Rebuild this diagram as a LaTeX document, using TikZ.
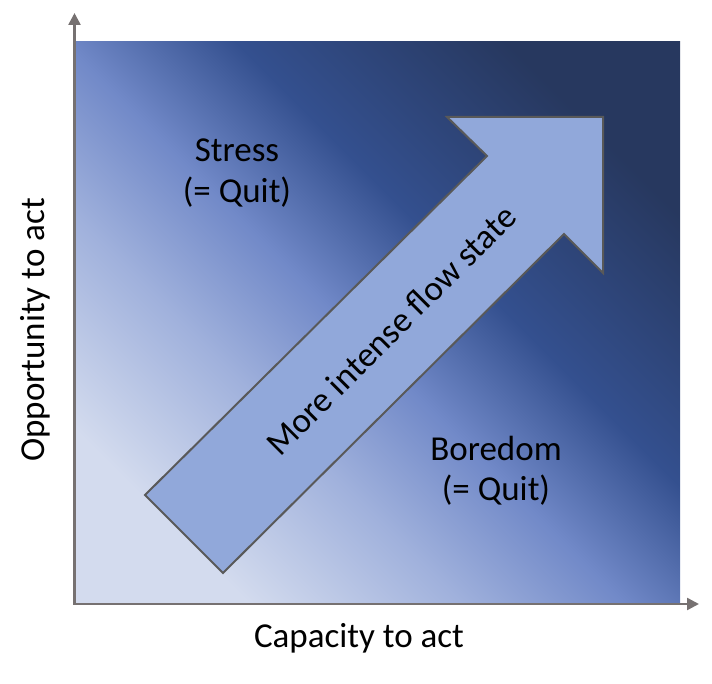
\documentclass[tikz,border=0pt]{standalone}
\usepackage{fontspec}
\setmainfont{Carlito}
\usetikzlibrary{arrows.meta}
\definecolor{gA}{HTML}{D3DBEE}
\definecolor{gB}{HTML}{A0B1DC}
\definecolor{gC}{HTML}{7189C8}
\definecolor{gD}{HTML}{34508F}
\definecolor{gE}{HTML}{27385F}
\definecolor{arrowfill}{HTML}{91A8DA}
\definecolor{arrowline}{HTML}{595959}
\definecolor{axisgray}{HTML}{767171}
\pgfdeclarehorizontalshading{flowshade}{100bp}{color(0bp)=(gA); color(25bp)=(gA); color(38bp)=(gB); color(48bp)=(gC); color(58.5bp)=(gD); color(75bp)=(gE); color(100bp)=(gE)}
\tikzset{
  lbl/.style={font=\fontsize{35}{40}\selectfont, text=black, inner sep=0pt},
  axisline/.style={draw=axisgray, line width=2.5pt, -{Triangle[length=12pt,width=12pt]}},
  bigarrow/.style={fill=arrowfill, draw=arrowline, line width=2pt, line join=miter}
}
\begin{document}
\begin{tikzpicture}[x=1pt,y=-1pt]
\useasboundingbox (0,0) rectangle (712,684);
% gradient field
\shade[shading=flowshade, shading angle=45] (75,42) rectangle (680,603);
% axes
\coordinate (origin) at (74.5,604);
\coordinate (ytip) at (74.5,13);
\coordinate (xtip) at (699,604);
\draw[axisline] (origin) -- (ytip);
\draw[axisline] ([xshift=-1.25pt]origin) -- (xtip);
% block arrow
\coordinate (tl) at (145,495);
\coordinate (tb) at (223,573);
\coordinate (ln) at (564,234);
\coordinate (hb) at (603,273);
\coordinate (tip) at (603,117);
\coordinate (ht) at (447,117);
\coordinate (un) at (487,156);
\draw[bigarrow] (tl) -- (tb) -- (ln) -- (hb) -- (tip) -- (ht) -- (un) -- cycle;
\node[lbl, rotate=45] (flow) at (391,330) {More intense flow state};
% labels
\node[lbl, anchor=base] (stress) at (237,162) {Stress};
\node[lbl, anchor=base] (stressq) at (237,203) {(= Quit)};
\node[lbl, anchor=base] (bored) at (496,460) {Boredom};
\node[lbl, anchor=base] (boredq) at (496,500) {(= Quit)};
\node[lbl] (xlabel) at (359,638) {Capacity to act};
\node[lbl, rotate=90] (ylabel) at (35,330) {Opportunity to act};
\end{tikzpicture}
\end{document}
